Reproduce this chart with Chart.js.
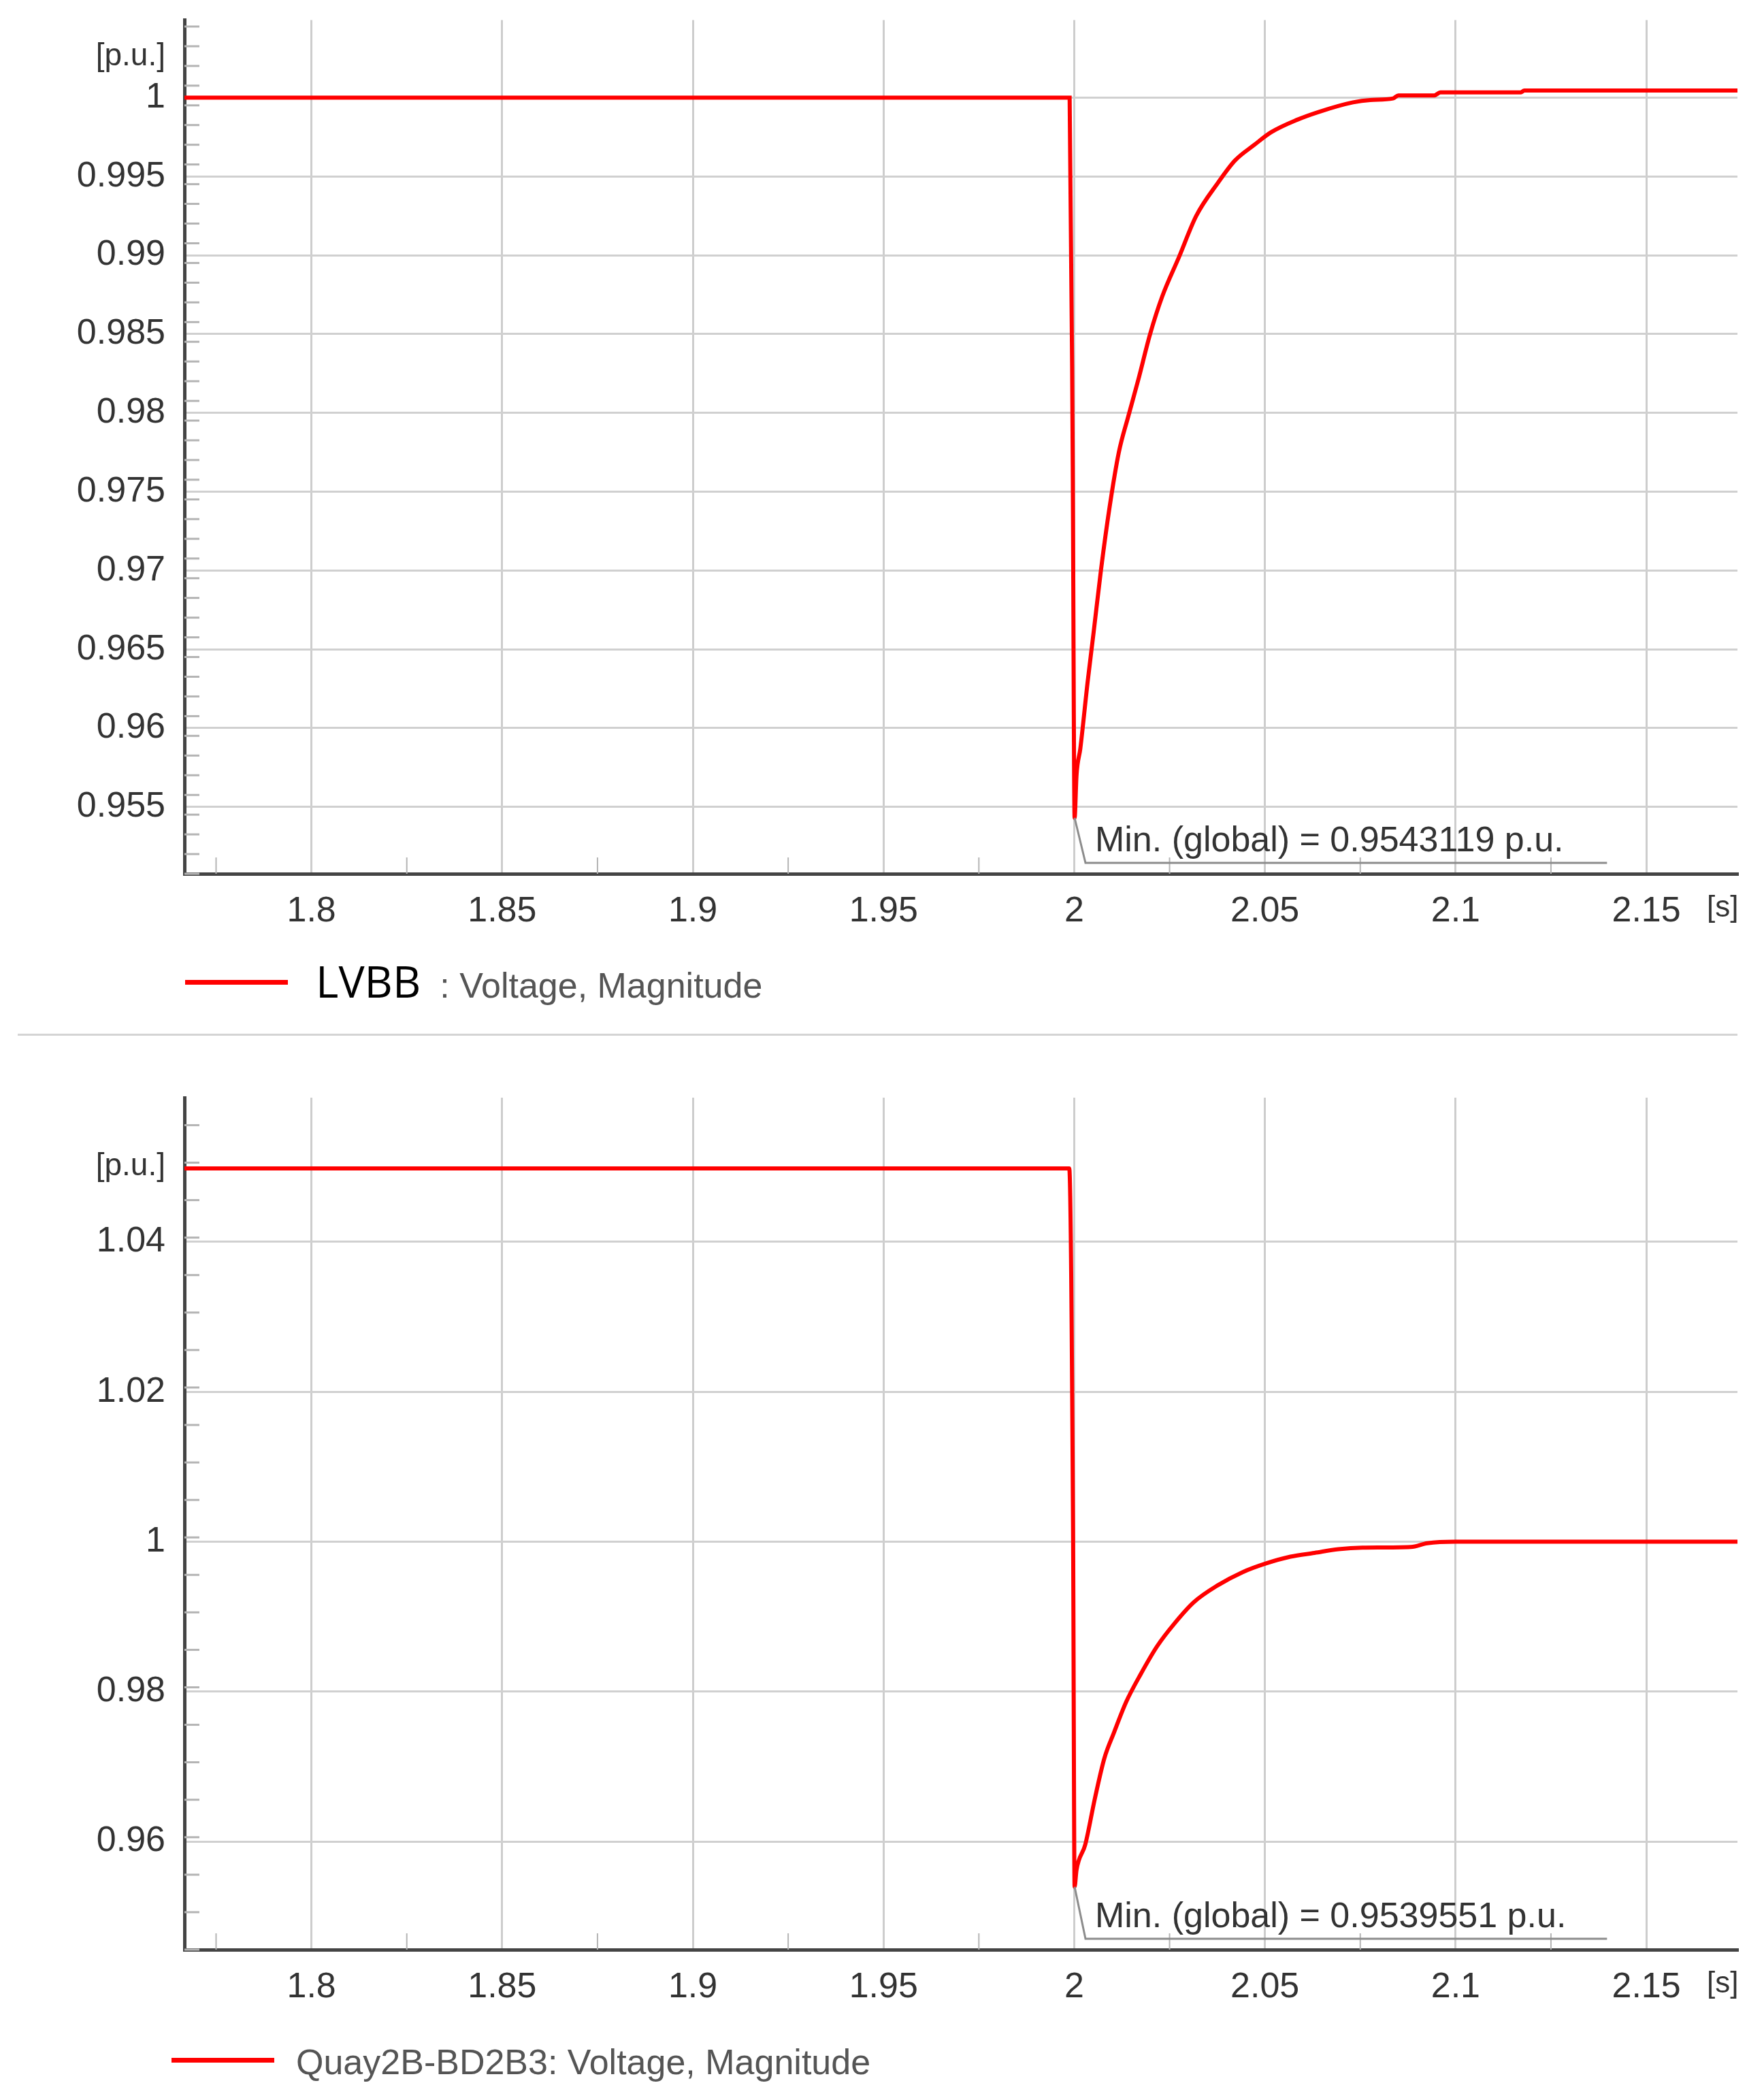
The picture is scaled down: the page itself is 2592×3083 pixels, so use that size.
<!DOCTYPE html>
<html>
<head>
<meta charset="utf-8">
<script src="https://cdn.jsdelivr.net/npm/chart.js@4.4.1/dist/chart.umd.min.js"></script>
<style>
  body{margin:0;background:#fff;}
  #page{position:relative;width:2592px;height:3083px;overflow:hidden;font-family:"Liberation Sans",Arial,sans-serif;}
  canvas{position:absolute;left:0;}
  .swatch{position:absolute;height:7px;background:#ff0000;}
  .leg{position:absolute;white-space:nowrap;line-height:80px;height:80px;font-size:52px;color:#555;}
  .big{font-family:"Open Sans",sans-serif;font-size:64px;color:#000;}
  #sep{position:absolute;left:26px;top:1519px;width:2527px;height:3px;background:#d4d4d4;}
</style>
</head>
<body>
<div id="page">
  <canvas id="lvbb" width="2592" height="1400" style="top:0"></canvas>
  <div class="swatch" style="left:272px;top:1440px;width:151px"></div>
  <div class="leg" style="left:464px;top:1402px"><span class="big">LVBB</span><span style="margin-left:28px">: Voltage, Magnitude</span></div>
  <div id="sep"></div>
  <canvas id="quay" width="2592" height="1440" style="top:1520px"></canvas>
  <div class="swatch" style="left:252px;top:3024px;width:151px"></div>
  <div class="leg" style="left:435px;top:2990px">Quay2B-BD2B3: Voltage, Magnitude</div>
</div>
<script>
// time axis (s)
const xMin = 1.7667, xMax = 2.1739;
const xTicks = [1.8, 1.85, 1.9, 1.95, 2, 2.05, 2.1, 2.15];
const xTickLabels = ['1.8', '1.85', '1.9', '1.95', '2', '2.05', '2.1', '2.15'];
const xUnitPos = 2.1700;

// LVBB voltage
const lvbbTime = [1.7667, 1.9988, 1.9996, 2.0001, 2.0006, 2.0016, 2.0035, 2.0051, 2.0070, 2.0092,
  2.0117, 2.0142, 2.0168, 2.0199, 2.0231, 2.0275, 2.0320, 2.0377, 2.0421, 2.0472,
  2.0516, 2.0585, 2.0642, 2.0731, 2.0776, 2.0836, 2.0850, 2.0944, 2.0960, 2.1171,
  2.1180, 2.1739];
const lvbbVolt = [1.0, 1.0, 0.9772, 0.95431, 0.9570, 0.9587, 0.9629, 0.9661, 0.9700, 0.9739,
  0.9775, 0.9798, 0.9821, 0.9850, 0.9874, 0.9899, 0.9925, 0.9946, 0.9960, 0.9970,
  0.9978, 0.9986, 0.9991, 0.9997, 0.99985, 0.99995, 1.00014, 1.00014, 1.00033, 1.00033,
  1.00045, 1.00045];
const lvbbYTicks = [0.955, 0.96, 0.965, 0.97, 0.975, 0.98, 0.985, 0.99, 0.995, 1];
const lvbbYLabels = ['0.955', '0.96', '0.965', '0.97', '0.975', '0.98', '0.985', '0.99', '0.995', '1'];
const lvbbUnitPos = 1.0026;
const lvbbMinText = 'Min. (global) = 0.9543119 p.u.';

// Quay2B-BD2B3 voltage
const quayTime = [1.7667, 1.9987, 1.9997, 2.0001, 2.0006, 2.0029, 2.0054, 2.0079, 2.0104, 2.0136,
  2.0174, 2.0218, 2.0263, 2.0313, 2.0377, 2.0440, 2.0503, 2.0567, 2.0630, 2.0693,
  2.0756, 2.0883, 2.0926, 2.1000, 2.1739];
const quayVolt = [1.0498, 1.0498, 1.0014, 0.95396, 0.9562, 0.9596, 0.9657, 0.9711, 0.9745, 0.9786,
  0.9823, 0.9861, 0.9891, 0.9919, 0.9942, 0.9959, 0.9971, 0.9980, 0.9985, 0.9990,
  0.9992, 0.9993, 0.9998, 1.0, 1.0];
const quayYTicks = [0.96, 0.98, 1, 1.02, 1.04];
const quayYLabels = ['0.96', '0.98', '1', '1.02', '1.04'];
const quayUnitPos = 1.05;
const quayMinText = 'Min. (global) = 0.9539551 p.u.';

const FONT = '"Liberation Sans", Arial, sans-serif';

function steps(from, to, step, skip) {
  const out = [];
  for (let v = from; v <= to + 1e-9; v += step) {
    const r = Math.round(v * 1e6) / 1e6;
    if (!skip.some(s => Math.abs(s - r) < 1e-7)) out.push(r);
  }
  return out;
}

// minor ticks, min marker
const decor = {
  id: 'decor',
  beforeDatasetsDraw(chart, args, o) {
    const {ctx, chartArea: a, scales: {x, y}} = chart;
    ctx.save();
    ctx.strokeStyle = '#b4b4b4';
    ctx.lineWidth = 3;
    o.yMinor.forEach(v => {
      const p = y.getPixelForValue(v);
      ctx.beginPath(); ctx.moveTo(a.left, p); ctx.lineTo(a.left + 22, p); ctx.stroke();
    });
    ctx.lineWidth = 2;
    o.xMinor.forEach(v => {
      const p = x.getPixelForValue(v);
      ctx.beginPath(); ctx.moveTo(p, a.bottom); ctx.lineTo(p, a.bottom - 24); ctx.stroke();
    });
    ctx.restore();
  },
  afterDatasetsDraw(chart, args, o) {
    const {ctx, chartArea: a, scales: {x, y}} = chart;
    const pts = chart.data.datasets[0].data;
    let m = pts[0];
    pts.forEach(d => { if (d.y < m.y) m = d; });
    const px = x.getPixelForValue(m.x), py = y.getPixelForValue(m.y);
    const ly = a.bottom - 16;
    ctx.save();
    ctx.strokeStyle = '#8c8c8c';
    ctx.lineWidth = 3;
    ctx.beginPath();
    ctx.moveTo(px, py);
    ctx.lineTo(px + 16, ly);
    ctx.lineTo(x.getPixelForValue(o.minEnd), ly);
    ctx.stroke();
    ctx.fillStyle = '#333';
    ctx.font = '52px ' + FONT;
    ctx.textBaseline = 'alphabetic';
    ctx.fillText(o.minText, px + 30, ly - 17);
    ctx.restore();
  }
};

function makeChart(id, time, volt, yMin, yMax, yTicks, yLabels, unitPos, yMinorStep, minText, padTop, xHeight) {
  const pts = time.map((t, i) => ({x: t, y: volt[i]}));
  const yAll = yTicks.concat([unitPos]);
  return new Chart(document.getElementById(id), {
    type: 'line',
    data: {datasets: [{data: pts, borderColor: '#ff0000', borderWidth: 6, pointRadius: 0, cubicInterpolationMode: 'monotone'}]},
    options: {
      responsive: false,
      animation: false,
      devicePixelRatio: 1,
      layout: {padding: {top: padTop, right: 39, bottom: 0, left: 0}},
      plugins: {
        legend: {display: false},
        tooltip: {enabled: false},
        decor: {
          yMinor: steps(yMin, yMax, yMinorStep, yAll),
          xMinor: steps(1.775, 2.125, 0.05, []),
          minText: minText,
          minEnd: 2.1397
        }
      },
      scales: {
        x: {
          type: 'linear', min: xMin, max: xMax,
          afterBuildTicks: s => { s.ticks = xTicks.concat([xUnitPos]).map(v => ({value: v})); },
          afterFit: s => { s.height = xHeight; s.paddingLeft = s.paddingRight = s.paddingTop = s.paddingBottom = 0; },
          ticks: {
            autoSkip: false, maxRotation: 0, padding: 24, color: '#333',
            font: c => ({family: FONT, size: c.tick && c.tick.value === xUnitPos ? 44 : 52}),
            callback: (v, i) => i < xTickLabels.length ? xTickLabels[i] : '[s]'
          },
          grid: {
            color: c => c.tick && c.tick.value === xUnitPos ? 'rgba(0,0,0,0)' : '#cdcdcd',
            lineWidth: 3, drawTicks: false
          },
          border: {color: '#444', width: 5}
        },
        y: {
          type: 'linear', min: yMin, max: yMax,
          afterBuildTicks: s => { s.ticks = yAll.map(v => ({value: v})); },
          afterFit: s => { s.width = 271; s.paddingLeft = s.paddingRight = s.paddingTop = s.paddingBottom = 0; },
          ticks: {
            autoSkip: false, padding: 28, color: '#333',
            font: c => ({family: FONT, size: c.tick && c.tick.value === unitPos ? 46 : 52}),
            callback: (v, i) => i < yLabels.length ? yLabels[i] : '[p.u.]'
          },
          grid: {
            color: c => c.tick && c.tick.value === unitPos ? 'rgba(0,0,0,0)' : '#d0d0d0',
            lineWidth: 3, drawTicks: false
          },
          border: {color: '#444', width: 5}
        }
      }
    },
    plugins: [decor]
  });
}

makeChart('lvbb', lvbbTime, lvbbVolt, 0.95076, 1.00492, lvbbYTicks, lvbbYLabels, lvbbUnitPos, 0.00125, lvbbMinText, 29.5, 116);
makeChart('quay', quayTime, quayVolt, 0.94557, 1.05924, quayYTicks, quayYLabels, quayUnitPos, 0.005, quayMinText, 93, 95);
</script>
</body>
</html>
